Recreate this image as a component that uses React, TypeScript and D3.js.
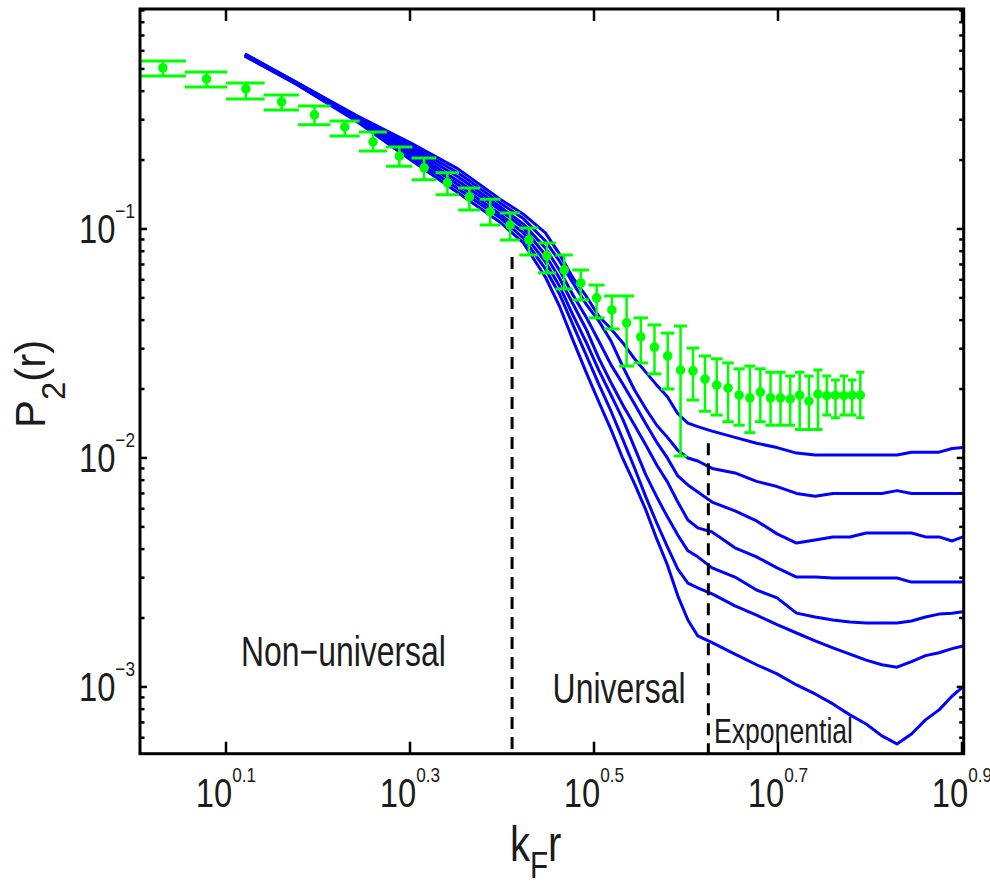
import React, { useEffect, useRef } from 'react';
import * as d3 from 'd3';

// kF*r grid shared by the seven blue curves
const curveR = [1.32, 1.5, 1.75, 2.0, 2.25, 2.5, 2.65, 2.8, 2.9, 3.0, 3.1, 3.2, 3.3, 3.4, 3.5, 3.6, 3.7, 3.8, 3.9, 4.0,
  4.1, 4.25, 4.5, 4.75, 5.0, 5.25, 5.5, 5.75, 6.0, 6.25, 6.5, 6.75, 7.0, 7.25, 7.5, 7.75, 7.96];

// P2(r) for each curve, top one first
const curve1 = [0.581, 0.438, 0.311, 0.237, 0.183, 0.135, 0.116, 0.0961, 0.0778, 0.0611, 0.0510, 0.0417, 0.0366, 0.0318,
  0.0271, 0.0237, 0.0208, 0.0185, 0.0156, 0.0142, 0.0137, 0.0131, 0.0123, 0.0116, 0.0111, 0.0105, 0.0103, 0.0103, 0.0103,
  0.0103, 0.0103, 0.0103, 0.0106, 0.0106, 0.0106, 0.0110, 0.0111];
const curve2 = [0.581, 0.438, 0.308, 0.230, 0.176, 0.130, 0.111, 0.0886, 0.0725, 0.0581, 0.0470, 0.0397, 0.0324, 0.0250,
  0.0198, 0.0164, 0.0139, 0.0123, 0.0108, 0.0100, 0.0097, 0.0090, 0.0086, 0.0079, 0.0075, 0.0070, 0.0068, 0.0070, 0.0070,
  0.0070, 0.0070, 0.0072, 0.0070, 0.0070, 0.0070, 0.0070, 0.0070];
const curve3 = [0.575, 0.434, 0.305, 0.224, 0.169, 0.125, 0.105, 0.0826, 0.0662, 0.0515, 0.0413, 0.0324, 0.0255, 0.0210,
  0.0172, 0.0141, 0.0117, 0.0100, 0.00835, 0.00762, 0.00710, 0.00642, 0.00587, 0.00531, 0.00466, 0.00425, 0.00438, 0.00452,
  0.00452, 0.00470, 0.00470, 0.00470, 0.00470, 0.00452, 0.00452, 0.00434, 0.00452];
const curve4 = [0.575, 0.434, 0.302, 0.219, 0.162, 0.121, 0.101, 0.0770, 0.0611, 0.0470, 0.0366, 0.0273, 0.0213, 0.0170,
  0.0139, 0.0114, 0.00932, 0.00786, 0.00642, 0.00536, 0.00495, 0.00475, 0.00405, 0.00370, 0.00331, 0.00302, 0.00302, 0.00299,
  0.00299, 0.00299, 0.00299, 0.00299, 0.00287, 0.00287, 0.00287, 0.00287, 0.00287];
const curve5 = [0.575, 0.434, 0.299, 0.213, 0.156, 0.116, 0.0961, 0.0718, 0.0564, 0.0421, 0.0321, 0.0242, 0.0188, 0.0147,
  0.0111, 0.00843, 0.00676, 0.00553, 0.00461, 0.00393, 0.00370, 0.00331, 0.00302, 0.00265, 0.00245, 0.00210, 0.00202, 0.00196,
  0.00192, 0.00190, 0.00190, 0.00190, 0.00194, 0.00202, 0.00208, 0.00210, 0.00213];
const curve6 = [0.569, 0.430, 0.296, 0.206, 0.150, 0.112, 0.0913, 0.0669, 0.0520, 0.0381, 0.0282, 0.0210, 0.0160, 0.0120,
  0.00904, 0.00676, 0.00520, 0.00409, 0.00327, 0.00284, 0.00271, 0.00255, 0.00226, 0.00206, 0.00187, 0.00172, 0.00159, 0.00148,
  0.00139, 0.00131, 0.00125, 0.00122, 0.00129, 0.00137, 0.00141, 0.00147, 0.00151];
const curve7 = [0.569, 0.430, 0.293, 0.200, 0.144, 0.107, 0.0869, 0.0617, 0.0461, 0.0327, 0.0237, 0.0176, 0.0133, 0.00990,
  0.00770, 0.00593, 0.00443, 0.00341, 0.00250, 0.00196, 0.00167, 0.00156, 0.00139, 0.00125, 0.00114, 0.00102, 0.000932,
  0.000843, 0.000755, 0.000689, 0.000611, 0.000564, 0.000623, 0.000718, 0.000794, 0.000913, 0.00100];
const curves = [curve1, curve2, curve3, curve4, curve5, curve6, curve7];

// green measured points with error bars
const dataR = [1.075, 1.199, 1.323, 1.447, 1.571, 1.695, 1.819, 1.943, 2.067, 2.191, 2.315, 2.439, 2.563, 2.687, 2.811,
  2.935, 3.059, 3.183, 3.307, 3.431, 3.555, 3.679, 3.803, 3.927, 4.051, 4.175, 4.299, 4.423, 4.547, 4.671, 4.795, 4.919,
  5.043, 5.167, 5.291, 5.415, 5.539, 5.663, 5.787, 5.911, 6.035, 6.159];
const dataP = [0.505, 0.452, 0.409, 0.359, 0.315, 0.279, 0.240, 0.208, 0.185, 0.159, 0.138, 0.119, 0.104, 0.0895, 0.0762,
  0.0662, 0.0581, 0.0500, 0.0443, 0.0389, 0.0338, 0.0305, 0.0279, 0.0242, 0.0240, 0.0221, 0.0208, 0.0202, 0.0188, 0.0183,
  0.0194, 0.0183, 0.0183, 0.0181, 0.0188, 0.0177, 0.0190, 0.0187, 0.0188, 0.0187, 0.0188, 0.0188];
const dataHi = [0.541, 0.485, 0.434, 0.385, 0.344, 0.296, 0.265, 0.228, 0.204, 0.176, 0.151, 0.135, 0.1175, 0.101, 0.0869,
  0.0770, 0.0662, 0.0569, 0.0510, 0.0510, 0.0409, 0.0381, 0.0351, 0.0377, 0.0302, 0.0279, 0.0271, 0.0260, 0.0245, 0.0252,
  0.0245, 0.0237, 0.0237, 0.0228, 0.0237, 0.0228, 0.0242, 0.0228, 0.0219, 0.0228, 0.0219, 0.0237];
const dataLo = [0.466, 0.417, 0.370, 0.331, 0.285, 0.255, 0.219, 0.188, 0.164, 0.141, 0.121, 0.104, 0.0895, 0.0770, 0.0643,
  0.0547, 0.0490, 0.0409, 0.0366, 0.0252, 0.0260, 0.0233, 0.0200, 0.0102, 0.0179, 0.0160, 0.0154, 0.0144, 0.0139, 0.0129,
  0.0144, 0.0139, 0.0139, 0.0139, 0.0133, 0.0133, 0.0133, 0.0154, 0.0150, 0.0154, 0.0154, 0.0150];

// region boundaries (dashed) and labels
const boundaryR = [2.576, 4.21];
const boundaryTop = [0.0755, 0.0116];
const regionNames = ['Non\u2212universal', 'Universal', 'Exponential'];
const regionR = [1.307, 2.851, 4.27];
const regionP = [0.00124, 0.000851, 0.000569];

const xTickExp = ['0.1', '0.3', '0.5', '0.7', '0.9'];
const yTickExp = ['-1', '-2', '-3'];

const FONT = '"Liberation Sans", Arial, Helvetica, sans-serif';
const INK = '#1c1c1c';

export default function App() {
  const ref = useRef<SVGSVGElement>(null);

  useEffect(() => {
    const svg = d3.select(ref.current);
    svg.selectAll('*').remove();

    const frame = { left: 140, right: 963.7, top: 9, bottom: 753.7 };

    const x = d3.scaleLog().domain([1.0151, 7.977]).range([frame.left, frame.right]);
    const y = d3.scaleLog().domain([0.000511, 0.9135]).range([frame.bottom, frame.top]);

    svg.append('defs').append('clipPath').attr('id', 'plot')
      .append('rect')
      .attr('x', frame.left).attr('y', frame.top)
      .attr('width', frame.right - frame.left).attr('height', frame.bottom - frame.top);

    const plot = svg.append('g').attr('clip-path', 'url(#plot)');

    // blue curves
    const line = d3.line<number>()
      .x((d, i) => x(curveR[i]))
      .y(d => y(d));

    plot.selectAll('path.curve')
      .data(curves)
      .enter()
      .append('path')
      .attr('class', 'curve')
      .attr('d', d => line(d))
      .attr('fill', 'none')
      .attr('stroke', '#0000ff')
      .attr('stroke-width', 3)
      .attr('stroke-linejoin', 'round');

    // green error bars
    const capHalf = 0.064;
    const green = '#00ff00';
    const pts = plot.append('g');
    dataR.forEach((r, i) => {
      pts.append('line')
        .attr('x1', x(r)).attr('x2', x(r))
        .attr('y1', y(dataHi[i])).attr('y2', y(dataLo[i]))
        .attr('stroke', green).attr('stroke-width', 2.5);
      [dataHi[i], dataLo[i]].forEach(v => {
        pts.append('line')
          .attr('x1', x(r - capHalf)).attr('x2', x(r + capHalf))
          .attr('y1', y(v)).attr('y2', y(v))
          .attr('stroke', green).attr('stroke-width', 3);
      });
      pts.append('circle')
        .attr('cx', x(r)).attr('cy', y(dataP[i]))
        .attr('r', 4.8)
        .attr('fill', green);
    });

    // dashed region boundaries
    boundaryR.forEach((r, i) => {
      plot.append('line')
        .attr('x1', x(r)).attr('x2', x(r))
        .attr('y1', y(boundaryTop[i])).attr('y2', frame.bottom)
        .attr('stroke', '#000')
        .attr('stroke-width', 3)
        .attr('stroke-dasharray', '12 8');
    });

    // region labels
    const sizes = [42, 42, 35];
    regionNames.forEach((name, i) => {
      svg.append('text')
        .attr('transform', `translate(${x(regionR[i])},${y(regionP[i])}) scale(0.76,1)`)
        .attr('font-family', FONT)
        .attr('font-size', sizes[i])
        .attr('fill', INK)
        .text(name);
    });

    // frame
    svg.append('rect')
      .attr('x', frame.left).attr('y', frame.top)
      .attr('width', frame.right - frame.left).attr('height', frame.bottom - frame.top)
      .attr('fill', 'none')
      .attr('stroke', '#000')
      .attr('stroke-width', 3);

    // x ticks (top and bottom, inward)
    const ticks = svg.append('g').attr('stroke', '#000').attr('stroke-width', 2.5);
    xTickExp.forEach(e => {
      const px = x(Math.pow(10, +e));
      ticks.append('line').attr('x1', px).attr('x2', px).attr('y1', frame.bottom).attr('y2', frame.bottom - 12);
      ticks.append('line').attr('x1', px).attr('x2', px).attr('y1', frame.top).attr('y2', frame.top + 12);

      const t = svg.append('text')
        .attr('transform', `translate(${px},807) scale(0.82,1)`)
        .attr('text-anchor', 'middle')
        .attr('font-family', FONT)
        .attr('font-size', 40)
        .attr('fill', INK);
      t.append('tspan').text('10');
      t.append('tspan').attr('font-size', 21).attr('dy', -25).text(e);
    });

    // y ticks (log, left and right, inward)
    y.ticks().forEach(v => {
      const lv = Math.log10(v);
      const major = Math.abs(lv - Math.round(lv)) < 1e-6;
      const len = major ? 7 : 4.5;
      const py = y(v);
      ticks.append('line').attr('x1', frame.left).attr('x2', frame.left + len).attr('y1', py).attr('y2', py);
      ticks.append('line').attr('x1', frame.right).attr('x2', frame.right - len).attr('y1', py).attr('y2', py);
    });

    yTickExp.forEach(e => {
      const py = y(Math.pow(10, +e));
      const t = svg.append('text')
        .attr('transform', `translate(135,${py + 14}) scale(0.82,1)`)
        .attr('text-anchor', 'end')
        .attr('font-family', FONT)
        .attr('font-size', 40)
        .attr('fill', INK);
      t.append('tspan').text('10');
      t.append('tspan').attr('font-size', 21).attr('dy', -25).text(e.replace('-', '\u2212'));
    });

    // axis titles
    const xt = svg.append('text')
      .attr('transform', 'translate(510,861) scale(0.8,1)')
      .attr('font-family', FONT)
      .attr('font-size', 50)
      .attr('fill', INK);
    xt.append('tspan').text('k');
    xt.append('tspan').attr('font-size', 37).attr('dy', 17).text('F');
    xt.append('tspan').attr('dy', -17).text('r');

    const yt = svg.append('text')
      .attr('transform', 'translate(45,428) rotate(-90)')
      .attr('font-family', FONT)
      .attr('font-size', 42)
      .attr('fill', INK);
    yt.append('tspan').text('P');
    yt.append('tspan').attr('font-size', 33).attr('dy', 20).text('2');
    yt.append('tspan').attr('dy', -20).text('(r)');
  }, []);

  return (
    <svg
      ref={ref}
      width={990}
      height={884}
      style={{ position: 'absolute', left: 0, top: 0, background: '#fff' }}
    />
  );
}
